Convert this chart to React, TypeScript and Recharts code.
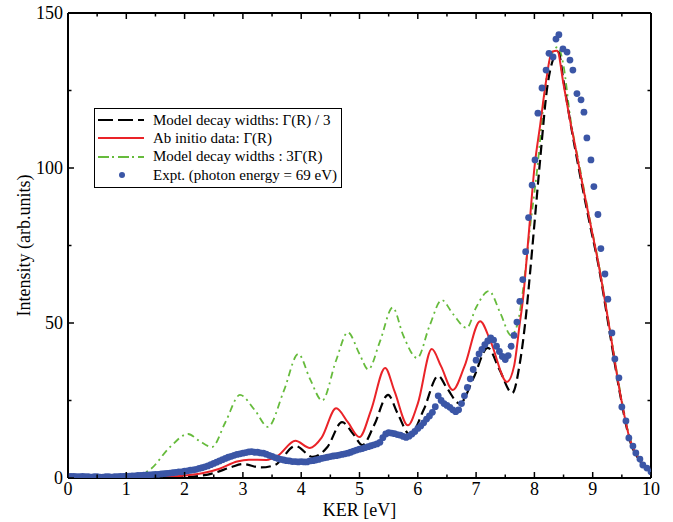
import { ComposedChart, Legend, Line, Scatter, XAxis, YAxis } from "recharts";

const FONT = '"Liberation Serif", "Times New Roman", serif';

// axis ticks (minor every half step)
const KER_TICKS = [0, 0.5, 1, 1.5, 2, 2.5, 3, 3.5, 4, 4.5, 5, 5.5, 6, 6.5, 7, 7.5, 8, 8.5, 9, 9.5, 10];
const INT_TICKS = [0, 25, 50, 75, 100, 125, 150];

// Model decay widths: Γ(R) / 3
const SLOW_KER = [0, 1.0, 1.5, 2.0, 2.3, 2.5, 2.8, 3.0, 3.3, 3.55, 3.9, 4.2, 4.45, 4.7, 4.9, 5.05, 5.25, 5.49, 5.65, 5.87, 6.1, 6.35, 6.5, 6.72, 6.95, 7.2, 7.4, 7.62, 7.75, 7.87, 7.92, 8.01, 8.1, 8.22, 8.32, 8.41, 8.5, 8.61, 8.78, 8.95, 9.1, 9.3, 9.47, 9.64, 9.81, 10];
const SLOW_INT = [0, 0, 0.1, 0.3, 0.8, 1.6, 3.5, 4.5, 3.4, 4.2, 10.3, 6.8, 10, 18, 14, 10.6, 17, 26.8, 21, 13.9, 22, 32.9, 29, 24, 32, 42, 35, 27.4, 37, 55, 65, 84, 103, 126, 135, 137.5, 128, 115.5, 98, 82, 68.5, 46, 27, 12, 5.5, 2];

// Ab initio data: Γ(R)
const ABINITIO_KER = [0, 1.0, 1.5, 2.0, 2.3, 2.6, 2.9, 3.1, 3.4, 3.6, 3.9, 4.15, 4.35, 4.6, 4.8, 5.0, 5.2, 5.44, 5.6, 5.83, 6.0, 6.24, 6.4, 6.6, 6.8, 7.07, 7.25, 7.53, 7.65, 7.75, 7.8, 7.9, 8.0, 8.1, 8.2, 8.3, 8.39, 8.5, 8.61, 8.7, 8.78, 8.95, 9.1, 9.3, 9.47, 9.64, 9.81, 10];
const ABINITIO_INT = [0, 0.1, 0.3, 0.8, 1.5, 3, 5.3, 5.9, 5.8, 7.2, 12, 9.7, 13, 22.5, 18, 13.2, 22, 35.5, 28, 17, 24, 41.6, 36, 28.4, 36, 50.6, 44, 31, 36, 50, 57, 78, 100, 114, 128, 137.5, 137.8, 127, 115.5, 107, 99, 83, 69, 47, 27.4, 12.3, 5.8, 2];

// Model decay widths : 3Γ(R)
const FAST_KER = [0, 1.0, 1.2, 1.4, 1.75, 2.06, 2.25, 2.47, 2.7, 2.95, 3.2, 3.43, 3.7, 3.95, 4.15, 4.36, 4.6, 4.8, 5.0, 5.15, 5.35, 5.57, 5.75, 5.99, 6.2, 6.41, 6.6, 6.84, 7.0, 7.22, 7.42, 7.6, 7.71, 7.8, 7.92, 8.05, 8.2, 8.3, 8.4, 8.5, 8.61, 8.78, 8.95, 9.1, 9.3, 9.47, 9.64, 9.81, 10];
const FAST_INT = [0, 0.2, 1, 2.6, 10, 14.2, 12, 10, 18, 26.8, 22, 16.5, 28, 40, 32, 25, 38, 47, 40, 35, 44, 55, 46, 38.7, 49, 57.4, 53, 48.4, 55, 60.3, 53, 46, 49.7, 60, 80, 100, 128, 137, 139, 133, 117, 100, 83.5, 69.5, 47.5, 28, 12.8, 6, 2];

// Expt. (photon energy = 69 eV)
const EXPT_KER = [
  0.0, 0.05, 0.1, 0.15, 0.2, 0.25, 0.3, 0.35, 0.4, 0.45, 0.5, 0.55, 0.6, 0.65, 0.7, 0.75, 0.8, 0.85, 0.9, 0.95,
  1.0, 1.05, 1.1, 1.15, 1.2, 1.25, 1.3, 1.35, 1.4, 1.45, 1.5, 1.55, 1.6, 1.65, 1.7, 1.75, 1.8, 1.85, 1.9, 1.95,
  2.0, 2.05, 2.1, 2.15, 2.2, 2.25, 2.3, 2.35, 2.4, 2.45, 2.5, 2.55, 2.6, 2.65, 2.7, 2.75, 2.8, 2.85, 2.9, 2.95,
  3.0, 3.05, 3.1, 3.15, 3.2, 3.25, 3.3, 3.35, 3.4, 3.45, 3.5, 3.55, 3.6, 3.65, 3.7, 3.75, 3.8, 3.85, 3.9, 3.95,
  4.0, 4.05, 4.1, 4.15, 4.2, 4.25, 4.3, 4.35, 4.4, 4.45, 4.5, 4.55, 4.6, 4.65, 4.7, 4.75, 4.8, 4.85, 4.9, 4.95,
  5.0, 5.05, 5.1, 5.15, 5.2, 5.25, 5.3, 5.35, 5.4, 5.45, 5.5, 5.55, 5.6, 5.65, 5.7, 5.75, 5.8, 5.85, 5.9, 5.95,
  6.0, 6.05, 6.1, 6.15, 6.2, 6.25, 6.3, 6.35, 6.4, 6.45, 6.5, 6.55, 6.6, 6.65, 6.7, 6.75, 6.8, 6.85, 6.9, 6.95,
  7.0, 7.05, 7.1, 7.15, 7.2, 7.25, 7.3, 7.35, 7.4, 7.45, 7.5, 7.55, 7.6, 7.65, 7.7, 7.75, 7.8, 7.85, 7.9, 7.96,
  8.01, 8.06, 8.13, 8.2, 8.25, 8.32, 8.37, 8.42, 8.49, 8.56, 8.61, 8.66, 8.73, 8.8, 8.85, 8.9, 8.97,
  9.02, 9.09, 9.14, 9.21, 9.26, 9.33, 9.38, 9.45, 9.5, 9.57, 9.62, 9.69, 9.74, 9.81, 9.86, 9.93, 10.0,
];
const EXPT_INT = [
  0.4, 0.5, 0.5, 0.4, 0.4, 0.5, 0.4, 0.4, 0.3, 0.4, 0.4, 0.3, 0.3, 0.4, 0.4, 0.3, 0.4, 0.4, 0.5, 0.5,
  0.6, 0.6, 0.7, 0.7, 0.8, 0.8, 0.9, 1.0, 1.0, 1.1, 1.2, 1.2, 1.3, 1.4, 1.5, 1.6, 1.7, 1.8, 2.0, 2.0,
  2.2, 2.3, 2.5, 2.6, 2.8, 3.1, 3.3, 3.6, 3.9, 4.3, 4.7, 5.1, 5.5, 5.9, 6.3, 6.7, 7.0, 7.3, 7.6, 7.8,
  8.0, 8.2, 8.4, 8.5, 8.3, 8.3, 8.1, 8.0, 7.7, 7.3, 7.0, 6.6, 6.3, 6.0, 5.8, 5.6, 5.5, 5.3, 5.3, 5.2,
  5.3, 5.2, 5.2, 5.5, 5.6, 5.8, 6.0, 6.3, 6.5, 6.7, 6.9, 7.1, 7.2, 7.4, 7.6, 7.8, 8.0, 8.3, 8.7, 9.0,
  9.3, 9.5, 9.8, 10.1, 10.4, 10.7, 11.0, 11.5, 13.0, 14.2, 14.6, 14.5, 14.3, 14.0, 13.8, 13.4, 13.1, 13.5, 14.2, 15.0,
  16.0, 16.8, 17.8, 19.0, 20.0, 21.2, 23.0, 26.5, 25.0, 24.0, 23.4, 22.8, 22.0, 21.4, 22.0, 24.0, 26.5, 29.2, 32.0, 35.0,
  38.0, 40.0, 41.5, 43.0, 44.2, 45.2, 44.5, 42.5, 40.8, 39.2, 38.2, 39.5, 42.5, 46.0, 50.3, 57.0, 64.0, 73.0, 84.0, 94.5,
  102.6, 117.7, 125.8, 131.6, 137, 135.8, 141.6, 143, 138.4, 137.4, 134.8, 131.6, 124, 122, 118, 109.7, 102.6,
  94, 85, 74, 65.8, 57.7, 46.8, 38.4, 32.3, 22.9, 18.4, 12.9, 10.3, 8.1, 6.1, 4.2, 3.2, 2,
];

const toPoints = (xs: number[], ys: number[]) => xs.map((x, i) => ({ x, y: ys[i] }));

const slowData = toPoints(SLOW_KER, SLOW_INT);
const abInitioData = toPoints(ABINITIO_KER, ABINITIO_INT);
const fastData = toPoints(FAST_KER, FAST_INT);
const exptData = toPoints(EXPT_KER, EXPT_INT);

const RED = "#ea2328";
const GREEN = "#66bb3c";
const BLUE = "#3b56a6";

function tickLen(v: number, major: number) {
  return v % major === 0 ? 6 : 3.5;
}

function BottomTick({ x, y, payload }: any) {
  const v = payload.value;
  const major = v % 1 === 0;
  return (
    <g>
      <line x1={x} x2={x} y1={y} y2={y - tickLen(v, 1)} stroke="#000" strokeWidth={1.5} />
      {major && (
        <text x={x} y={y + 17} textAnchor="middle" fontSize={18} fontFamily={FONT} fill="#000">
          {v}
        </text>
      )}
    </g>
  );
}

function TopTick({ x, y, payload }: any) {
  return <line x1={x} x2={x} y1={y} y2={y + tickLen(payload.value, 1)} stroke="#000" strokeWidth={1.5} />;
}

function LeftTick({ x, y, payload }: any) {
  const v = payload.value;
  const major = v % 50 === 0;
  return (
    <g>
      <line x1={x} x2={x + tickLen(v, 50)} y1={y} y2={y} stroke="#000" strokeWidth={1.5} />
      {major && (
        <text x={x - 5} y={y + 6} textAnchor="end" fontSize={18} fontFamily={FONT} fill="#000">
          {v}
        </text>
      )}
    </g>
  );
}

function RightTick({ x, y, payload }: any) {
  return <line x1={x} x2={x - tickLen(payload.value, 50)} y1={y} y2={y} stroke="#000" strokeWidth={1.5} />;
}

const Dot = (props: any) => <circle cx={props.cx} cy={props.cy} r={3.4} fill={BLUE} />;

function LegendBox() {
  const rows = [
    { label: "Model decay widths: Γ(R) / 3", kind: "slow" },
    { label: "Ab initio data: Γ(R)", kind: "abinitio" },
    { label: "Model decay widths : 3Γ(R)", kind: "fast" },
    { label: "Expt. (photon energy = 69 eV)", kind: "expt" },
  ];
  return (
    <div
      style={{
        boxSizing: "border-box",
        width: 248,
        height: 80,
        border: "1px solid #000",
        background: "#fff",
        padding: "2px 0 0 2px",
        fontFamily: FONT,
        fontSize: 15,
        color: "#000",
      }}
    >
      {rows.map((r) => (
        <div key={r.kind} style={{ display: "flex", alignItems: "center", height: 18.3, whiteSpace: "nowrap" }}>
          <svg width={48} height={10} style={{ flex: "none" }}>
            {r.kind === "slow" && <line x1={1} x2={47} y1={5} y2={5} stroke="#000" strokeWidth={2} strokeDasharray="15 5" />}
            {r.kind === "abinitio" && <line x1={1} x2={47} y1={5} y2={5} stroke={RED} strokeWidth={2} />}
            {r.kind === "fast" && (
              <line x1={1} x2={47} y1={5} y2={5} stroke={GREEN} strokeWidth={1.8} strokeDasharray="11 3 2 4" />
            )}
            {r.kind === "expt" && <circle cx={25} cy={5} r={3} fill={BLUE} />}
          </svg>
          <span style={{ marginLeft: 8 }}>{r.label}</span>
        </div>
      ))}
    </div>
  );
}

export default function App() {
  return (
    <div style={{ position: "absolute", left: 0, top: 0, width: 673, height: 522, background: "#fff" }}>
      <ComposedChart width={673} height={522} margin={{ top: 12, right: 21, bottom: 43, left: 67 }}>
        <XAxis
          type="number"
          dataKey="x"
          domain={[0, 10]}
          ticks={KER_TICKS}
          interval={0}
          height={1}
          tickSize={0}
          tickMargin={0}
          tickLine={false}
          tick={<BottomTick />}
          axisLine={{ stroke: "#000", strokeWidth: 2 }}
          allowDataOverflow
          label={{ value: "KER [eV]", position: "bottom", offset: 24, fontSize: 18, fontFamily: FONT, fill: "#000" }}
        />
        <XAxis
          xAxisId="top"
          orientation="top"
          type="number"
          dataKey="x"
          domain={[0, 10]}
          ticks={KER_TICKS}
          interval={0}
          height={1}
          tickSize={0}
          tickMargin={0}
          tickLine={false}
          tick={<TopTick />}
          axisLine={{ stroke: "#000", strokeWidth: 2 }}
          allowDataOverflow
        />
        <YAxis
          type="number"
          dataKey="y"
          domain={[0, 150]}
          ticks={INT_TICKS}
          interval={0}
          width={1}
          tickSize={0}
          tickMargin={0}
          tickLine={false}
          tick={<LeftTick />}
          axisLine={{ stroke: "#000", strokeWidth: 2 }}
          allowDataOverflow
          label={{
            value: "Intensity (arb.units)",
            position: "left",
            angle: -90,
            offset: 43,
            fontSize: 18,
            fontFamily: FONT,
            fill: "#000",
            style: { textAnchor: "middle" },
          }}
        />
        <YAxis
          yAxisId="right"
          orientation="right"
          type="number"
          domain={[0, 150]}
          ticks={INT_TICKS}
          interval={0}
          width={1}
          tickSize={0}
          tickMargin={0}
          tickLine={false}
          tick={<RightTick />}
          axisLine={{ stroke: "#000", strokeWidth: 2 }}
          allowDataOverflow
        />
        <Legend
          layout="vertical"
          align="center"
          verticalAlign="middle"
          wrapperStyle={{ left: 94, top: 108, width: 248, height: 80 }}
          content={() => <LegendBox />}
        />
        <Line
          data={fastData}
          dataKey="y"
          type="monotone"
          stroke={GREEN}
          strokeWidth={1.8}
          strokeDasharray="7 4 2 4"
          dot={false}
          activeDot={false}
          isAnimationActive={false}
        />
        <Line
          data={slowData}
          dataKey="y"
          type="monotone"
          stroke="#000"
          strokeWidth={2.2}
          strokeDasharray="10 5"
          dot={false}
          activeDot={false}
          isAnimationActive={false}
        />
        <Line
          data={abInitioData}
          dataKey="y"
          type="monotone"
          stroke={RED}
          strokeWidth={2}
          dot={false}
          activeDot={false}
          isAnimationActive={false}
        />
        <Scatter data={exptData} dataKey="y" shape={<Dot />} isAnimationActive={false} />
      </ComposedChart>
    </div>
  );
}
